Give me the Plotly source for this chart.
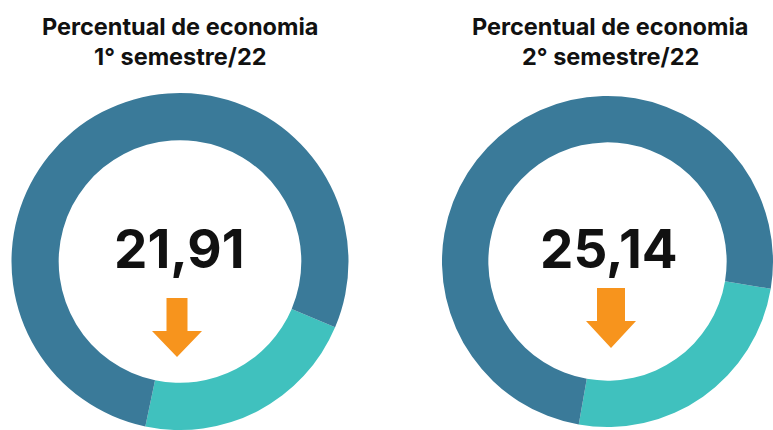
import plotly.graph_objects as go

W, H = 773, 430

# Data
periods = ["1° semestre/22", "2° semestre/22"]
economia = [21.91, 25.14]
restante = [100 - v for v in economia]
labels_valor = ["21,91", "25,14"]
slice_labels = ["Economia", "Restante"]

TEAL = "#40C1BE"
DARK = "#3A7A99"
ORANGE = "#F7941D"
FONT = "Inter, Lato, Roboto, sans-serif"

def px(x):
    return x / W

def py(y):
    return 1 - y / H

# layout specs (pixels)
pie_specs = [
    dict(x0=11, x1=349, y0=93, y1=430, rot=113, cx=180),
    dict(x0=442, x1=773, y0=93, y1=430, rot=99.5, cx=610),
]

fig = go.Figure()
for i, spec in enumerate(pie_specs):
    fig.add_trace(go.Pie(
        labels=slice_labels,
        values=[economia[i], restante[i]],
        hole=0.72,
        sort=False,
        direction="clockwise",
        rotation=spec["rot"],
        marker=dict(colors=[TEAL, DARK], line=dict(width=0)),
        textinfo="none",
        hoverinfo="label+value",
        showlegend=False,
        domain=dict(x=[px(spec["x0"]), px(spec["x1"])],
                    y=[py(spec["y1"]), py(spec["y0"])]),
    ))

annotations = []
shapes = []
arrow_specs = [
    dict(cx=177, top=298, shaft=21, head=50, head_top=331, tip=357),
    dict(cx=611, top=288, shaft=28, head=50, head_top=321, tip=348),
]
for i, spec in enumerate(pie_specs):
    cx = spec["cx"]
    annotations.append(dict(
        text="<b>Percentual de economia</b>", x=px(cx), y=py(27),
        xref="paper", yref="paper", xanchor="center", yanchor="middle",
        showarrow=False, font=dict(family=FONT, size=23.5, color="#111111")))
    annotations.append(dict(
        text="<b>" + periods[i] + "</b>", x=px(cx), y=py(57),
        xref="paper", yref="paper", xanchor="center", yanchor="middle",
        showarrow=False, font=dict(family=FONT, size=23.5, color="#111111")))
    annotations.append(dict(
        text="<b>" + labels_valor[i] + "</b>", x=px(cx - 1), y=py(249),
        xref="paper", yref="paper", xanchor="center", yanchor="middle",
        showarrow=False, font=dict(family=FONT, size=53, color="#111111")))
    a = arrow_specs[i]
    ax = a["cx"]
    sw = a["shaft"] / 2
    hw = a["head"] / 2
    pts = [
        (ax - sw, a["top"]), (ax + sw, a["top"]), (ax + sw, a["head_top"]),
        (ax + hw, a["head_top"]), (ax, a["tip"]), (ax - hw, a["head_top"]),
        (ax - sw, a["head_top"]),
    ]
    path = "M " + " L ".join(f"{px(x):.5f},{py(y):.5f}" for x, y in pts) + " Z"
    shapes.append(dict(type="path", path=path, xref="paper", yref="paper",
                       fillcolor=ORANGE, line=dict(width=0)))

fig.update_layout(
    width=W, height=H,
    margin=dict(l=0, r=0, t=0, b=0, pad=0),
    paper_bgcolor="white", plot_bgcolor="white",
    annotations=annotations, shapes=shapes,
    showlegend=False,
)

fig.write_html(
    "out.html",
    config={"displayModeBar": False},
    post_script="document.body.style.margin='0';document.body.style.overflow='hidden';",
)
